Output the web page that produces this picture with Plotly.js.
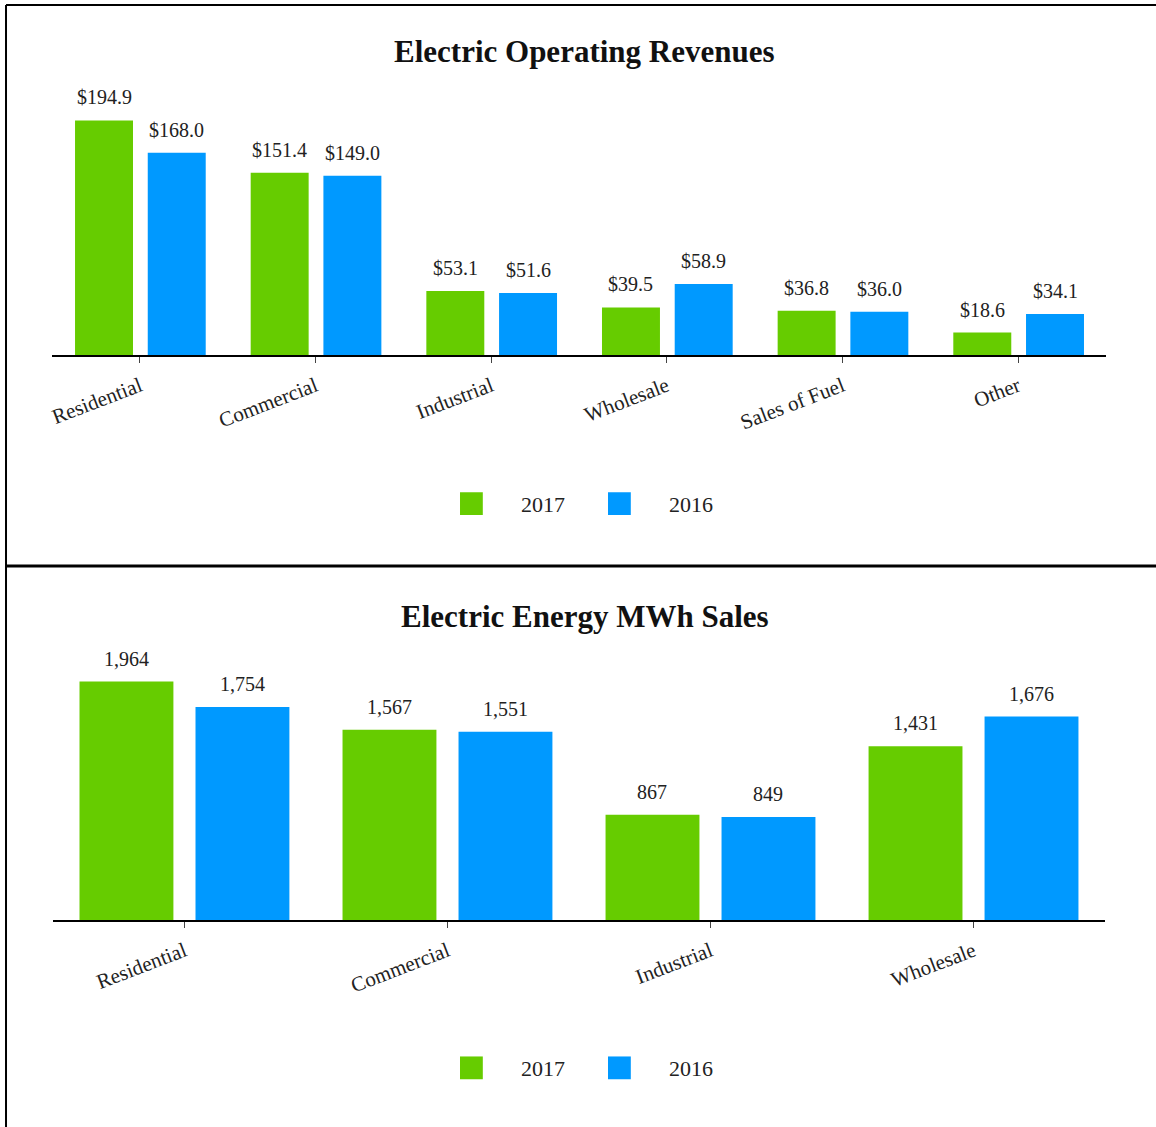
<!DOCTYPE html>
<html>
<head>
<meta charset="utf-8">
<script src="https://cdn.plot.ly/plotly-3.0.1.min.js"></script>
<style>
  body { margin: 0; background: #fff; }
  #myPlot { width: 1156px; height: 1127px; }
</style>
</head>
<body>
<div id="myPlot"></div>
<script>
// revenue chart ($ millions)
var revCategories = ["Residential", "Commercial", "Industrial", "Wholesale", "Sales of Fuel", "Other"];
var rev2017 = [194.9, 151.4, 53.1, 39.5, 36.8, 18.6];
var rev2016 = [168.0, 149.0, 51.6, 58.9, 36.0, 34.1];

// energy sales chart (MWh)
var mwhCategories = ["Residential", "Commercial", "Industrial", "Wholesale"];
var mwh2017 = [1964, 1567, 867, 1431];
var mwh2016 = [1754, 1551, 849, 1676];

var green = "#66cc00";
var blue = "#0099ff";
var serif = "Liberation Serif, Times New Roman, serif";

var lblFont = {family: serif, size: 20, color: "#222"};
var tickFont = {family: serif, size: 21, color: "#222"};

function bars(x, y, name, color, xa, ya, off, w, leg) {
  return {
    type: "bar", x: x, y: y, name: name,
    xaxis: xa, yaxis: ya,
    marker: {color: color},
    offset: off, width: w,
    legend: leg
  };
}

// value labels above the bars, placed on the axes' own scales
function labels(vals, xa, ya, off, w, fmt) {
  return vals.map(function (v, i) {
    return {
      xref: xa, yref: ya, x: i + off + w / 2, y: v,
      text: fmt(v), showarrow: false,
      yanchor: "middle", yshift: 23, font: lblFont
    };
  });
}
function money(v) { return "$" + v.toFixed(1); }
function count(v) { return v.toLocaleString("en-US"); }

var data = [
  bars(revCategories, rev2017, "2017", green, "x", "y", -0.369, 0.33, "legend"),
  bars(revCategories, rev2016, "2016", blue, "x", "y", 0.045, 0.33, "legend"),
  bars(mwhCategories, mwh2017, "2017", green, "x2", "y2", -0.399, 0.357, "legend2"),
  bars(mwhCategories, mwh2016, "2016", blue, "x2", "y2", 0.042, 0.357, "legend2")
];

var xCommon = {
  showline: true, linecolor: "#000", linewidth: 2,
  ticks: "outside", ticklen: 6, tickcolor: "#444", tickwidth: 1,
  tickangle: -21, tickfont: tickFont, ticklabelstandoff: 3,
  showgrid: false, zeroline: false, fixedrange: true
};

var legCommon = {
  orientation: "h", xanchor: "center", yanchor: "middle",
  font: {family: serif, size: 22, color: "#222"},
  itemwidth: 89, bgcolor: "rgba(0,0,0,0)"
};

var titleFont = {family: serif, size: 31, color: "#111"};

var annotations = [
  {text: "<b>Electric Operating Revenues</b>", xref: "paper", yref: "paper",
   x: 0.506, y: 0.954, yanchor: "middle", showarrow: false, font: titleFont},
  {text: "<b>Electric Energy MWh Sales</b>", xref: "paper", yref: "paper",
   x: 0.506, y: 0.4534, yanchor: "middle", showarrow: false, font: titleFont}
].concat(
  labels(rev2017, "x", "y", -0.369, 0.33, money),
  labels(rev2016, "x", "y", 0.045, 0.33, money),
  labels(mwh2017, "x2", "y2", -0.399, 0.357, count),
  labels(mwh2016, "x2", "y2", 0.042, 0.357, count)
);

var layout = {
  width: 1156, height: 1127,
  margin: {l: 0, r: 0, t: 0, b: 0},
  paper_bgcolor: "#fff", plot_bgcolor: "#fff",
  barmode: "overlay",
  font: {family: serif},
  xaxis: Object.assign({}, xCommon, {domain: [0.045, 0.9567], range: [-0.5, 5.5], anchor: "y"}),
  yaxis: {domain: [0.685, 0.920], range: [0, 220], visible: false},
  xaxis2: Object.assign({}, xCommon, {domain: [0.0458, 0.9559], range: [-0.5, 3.5], anchor: "y2"}),
  yaxis2: {domain: [0.1837, 0.4206], range: [0, 2200], visible: false},
  legend: Object.assign({}, legCommon, {x: 0.493, y: 0.553}),
  legend2: Object.assign({}, legCommon, {x: 0.493, y: 0.0523}),
  annotations: annotations,
  shapes: [
    // frame lines round the two panels
    {type: "line", xref: "paper", yref: "paper", x0: 0.0052, x1: 0.0052, y0: 0, y1: 0.9956, line: {color: "#000", width: 2}},
    {type: "line", xref: "paper", yref: "paper", x0: 0.0052, x1: 1, y0: 0.9956, y1: 0.9956, line: {color: "#000", width: 2}},
    {type: "line", xref: "paper", yref: "paper", x0: 0.0052, x1: 1, y0: 0.4978, y1: 0.4978, line: {color: "#000", width: 3}}
  ]
};

Plotly.newPlot("myPlot", data, layout, {staticPlot: true}).then(function (gd) {
  // bigger legend squares like the original
  gd.querySelectorAll(".legendpoints path").forEach(function (p) {
    var t = p.getAttribute("transform") || "";
    p.setAttribute("transform", t + " scale(1.9)");
  });
});
</script>
</body>
</html>
